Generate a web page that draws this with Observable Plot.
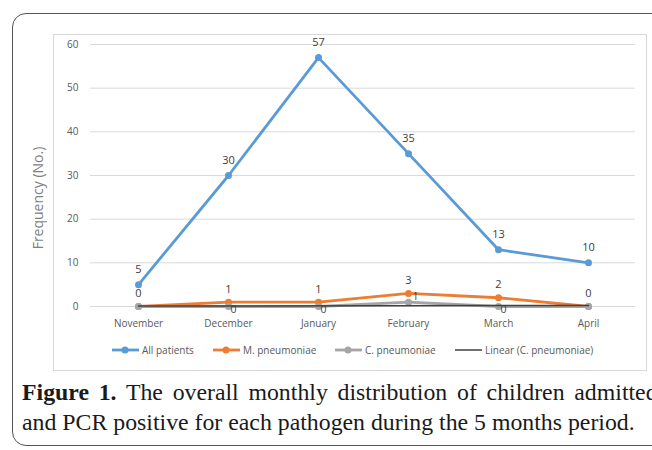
<!DOCTYPE html>
<html>
<head>
<meta charset="utf-8">
<script src="https://cdn.jsdelivr.net/npm/d3@7"></script>
<script src="https://cdn.jsdelivr.net/npm/@observablehq/plot@0.6"></script>
<style>
  html, body { margin: 0; padding: 0; background: #fff; }
  body { width: 652px; height: 450px; position: relative; overflow: hidden; font-family: "Open Sans", sans-serif; }
  #outer { position: absolute; left: 12px; top: 13px; width: 660px; height: 433px; border: 1.5px solid #555; border-radius: 14px; box-sizing: border-box; }
  #inner { position: absolute; left: 53px; top: 34px; width: 594px; height: 337px; border: 1px solid #d9d9d9; box-sizing: border-box; }
  #chart { position: absolute; left: 0; top: 0; }
  #ylabel { position: absolute; left: 37px; top: 198px; transform: translate(-50%, -50%) rotate(-90deg); font-size: 14px; color: #7f7f7f; white-space: nowrap; }
  .leg { position: absolute; top: 342px; height: 16px; display: flex; align-items: center; font-size: 10px; color: #595959; white-space: nowrap; }
  .leg svg { margin-right: 3px; }
  .cap { position: absolute; left: 22px; font-family: "Liberation Serif", "Times New Roman", serif; font-size: 23.8px; line-height: 30px; color: #1a1a1a; white-space: nowrap; }
  #cap1 { top: 377px; word-spacing: 3.8px; }
  #cap2 { top: 407px; }
</style>
</head>
<body>
<div id="outer"></div>
<div id="inner"></div>
<div id="chart"></div>
<div id="ylabel">Frequency (No.)</div>
<div id="legend"></div>
<div class="cap" id="cap1"><b>Figure 1.</b> The overall monthly distribution of children admitted</div>
<div class="cap" id="cap2">and PCR positive for each pathogen during the 5 months period.</div>
<script>
const months = ["November", "December", "January", "February", "March", "April"];
const allPatients = [5, 30, 57, 35, 13, 10];
const mPneumoniae = [0, 1, 1, 3, 2, 0];
const cPneumoniae = [0, 0, 0, 1, 0, 0];
const linearCMonths = ["November", "April"];
const linearC = [0.1, 0.24];
const yTicks = [0, 10, 20, 30, 40, 50, 60];
const seriesNames = ["All patients", "M. pneumoniae", "C. pneumoniae", "Linear (C. pneumoniae)"];
const colors = ["#5b9bd5", "#ed7d31", "#a5a5a5", "#404040"];

const rowsAll = months.map((m, i) => ({month: m, value: allPatients[i], i}));
const rowsM = months.map((m, i) => ({month: m, value: mPneumoniae[i], i}));
const rowsC = months.map((m, i) => ({month: m, value: cPneumoniae[i], i}));
const rowsT = linearCMonths.map((m, i) => ({month: m, value: linearC[i]}));
const cShown = rowsC.filter(d => d.i > 0 && d.i < 5);

const H = 330;
const chart = Plot.plot({
  width: 652,
  height: H,
  marginLeft: 90,
  marginRight: 17,
  marginTop: 44,
  marginBottom: H - 306,
  style: {fontFamily: "Open Sans, sans-serif", background: "transparent", overflow: "visible"},
  x: {type: "point", domain: months, padding: 0.5},
  y: {domain: [0, 60]},
  marks: [
    Plot.gridY(yTicks, {stroke: "#d9d9d9", strokeOpacity: 1, strokeWidth: 1}),
    Plot.axisY({ticks: yTicks, tickSize: 0, tickPadding: 12, label: null, fontSize: 10, fill: "#595959"}),
    Plot.axisX({tickSize: 0, tickPadding: 13, label: null, fontSize: 10, fill: "#595959"}),
    Plot.line(rowsAll, {x: "month", y: "value", stroke: colors[0], strokeWidth: 2.8}),
    Plot.dot(rowsAll, {x: "month", y: "value", fill: colors[0], r: 3.5}),
    Plot.line(rowsM, {x: "month", y: "value", stroke: colors[1], strokeWidth: 2.8}),
    Plot.dot(rowsM, {x: "month", y: "value", fill: colors[1], r: 3.5}),
    Plot.line(rowsC, {x: "month", y: "value", stroke: colors[2], strokeWidth: 2.8}),
    Plot.dot(rowsC, {x: "month", y: "value", fill: colors[2], r: 3.5}),
    Plot.line(rowsT, {x: "month", y: "value", stroke: colors[3], strokeWidth: 1.5}),
    Plot.text(rowsAll, {x: "month", y: "value", text: d => String(d.value), dy: -15, fontSize: 11, fill: "#404040"}),
    Plot.text(rowsM, {x: "month", y: "value", text: d => String(d.value), dy: -13, fontSize: 11, fill: "#404040"}),
    Plot.text(cShown.filter(d => d.value === 0), {x: "month", y: "value", text: d => String(d.value), dx: 5, dy: 3, fontSize: 10.5, fill: "#404040"}),
    Plot.text(cShown.filter(d => d.value !== 0), {x: "month", y: "value", text: d => String(d.value), dx: 7, dy: -6, fontSize: 10.5, fill: "#404040"})
  ]
});
document.getElementById("chart").appendChild(chart);

// legend
const legLefts = [112, 213, 335, 455];
const legend = document.getElementById("legend");
seriesNames.forEach((name, k) => {
  const div = document.createElement("div");
  div.className = "leg";
  div.style.left = legLefts[k] + "px";
  const dot = k < 3 ? `<circle cx="13" cy="8" r="3.5" fill="${colors[k]}"/>` : "";
  div.innerHTML = `<svg width="27" height="16"><line x1="0" x2="27" y1="8" y2="8" stroke="${colors[k]}" stroke-width="${k < 3 ? 2.8 : 1.5}"/>${dot}</svg>${name}`;
  legend.appendChild(div);
});
</script>
</body>
</html>
